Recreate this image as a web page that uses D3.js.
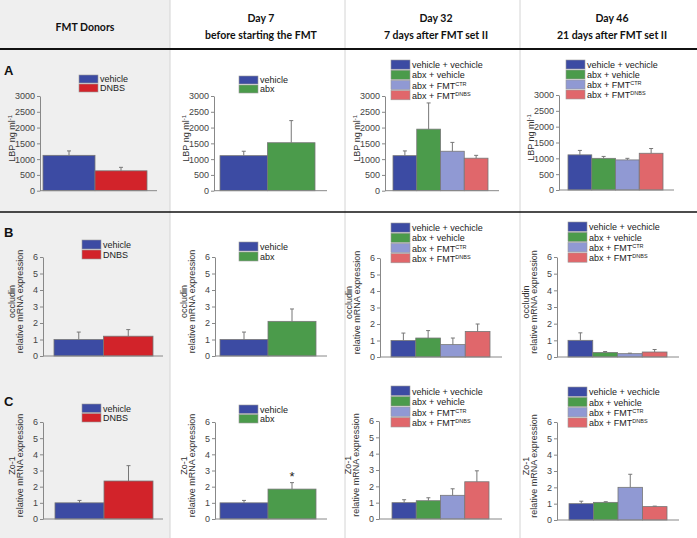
<!DOCTYPE html>
<html>
<head>
<meta charset="utf-8">
<script src="https://cdn.jsdelivr.net/npm/d3@7"></script>
<style>
body { margin: 0; background: #fff; }
svg { display: block; }
</style>
</head>
<body>
<svg id="canvas" width="697" height="538"></svg>
<script>
// groups and colours
let donorGroups = ['vehicle', 'DNBS']
let day7Groups = ['vehicle', 'abx']
let fmtGroups = ['vehicle + vechicle', 'abx + vehicle', 'abx + FMT', 'abx + FMT']
let fmtSup = ['', '', 'CTR', 'DNBS']
let donorColors = ['#3c4ba3', '#d2232a']
let day7Colors = ['#3c4ba3', '#4b9b4b']
let fmtColors = ['#3c4ba3', '#4b9b4b', '#9099d3', '#e0676b']

let columnTitles = [['FMT Donors'], ['Day 7', 'before starting the FMT'], ['Day 32', '7 days after FMT set II'], ['Day 46', '21 days after FMT set II']]
let rowLetters = ['A', 'B', 'C']

let lbpTicks = [0, 500, 1000, 1500, 2000, 2500, 3000]
let mrnaTicks = [0, 1, 2, 3, 4, 5, 6]
let lbpLabel = ['LBP ng ml']
let occLabel = ['occludin', 'relative mRNA expression']
let zoLabel = ['Zo-1', 'relative mRNA expression']

// means and top of the error bar
let lbpDonors = [1120, 630]
let lbpDonorsErr = [1260, 740]
let lbpDay7 = [1110, 1520]
let lbpDay7Err = [1250, 2220]
let lbpDay32 = [1110, 1950, 1250, 1030]
let lbpDay32Err = [1260, 2780, 1530, 1120]
let lbpDay46 = [1110, 1000, 950, 1160]
let lbpDay46Err = [1250, 1060, 1000, 1310]

let occDonors = [1.0, 1.2]
let occDonorsErr = [1.45, 1.6]
let occDay7 = [1.0, 2.1]
let occDay7Err = [1.45, 2.85]
let occDay32 = [1.0, 1.15, 0.75, 1.55]
let occDay32Err = [1.45, 1.6, 1.15, 2.0]
let occDay46 = [1.0, 0.27, 0.2, 0.3]
let occDay46Err = [1.45, 0.33, 0.23, 0.45]

let zoDonors = [1.0, 2.35]
let zoDonorsErr = [1.15, 3.3]
let zoDay7 = [1.0, 1.85]
let zoDay7Err = [1.15, 2.25]
let zoDay32 = [1.0, 1.12, 1.45, 2.28]
let zoDay32Err = [1.18, 1.3, 1.85, 2.95]
let zoDay46 = [1.0, 1.08, 2.0, 0.82]
let zoDay46Err = [1.15, 1.12, 2.8, 0.85]

let canvas = d3.select('#canvas')
let font = 'Liberation Sans, Arial, sans-serif'

// page frame
canvas.append('rect').attr('x', 0).attr('y', 0).attr('width', 170).attr('height', 538).attr('fill', '#efefef')
canvas.selectAll('.vline').data([170, 345, 520]).enter().append('line')
    .attr('x1', d => d).attr('x2', d => d).attr('y1', 0).attr('y2', 538)
    .attr('stroke', '#d4d4d4').attr('stroke-width', 1)
canvas.append('line').attr('x1', 0).attr('x2', 697).attr('y1', 49).attr('y2', 49)
    .attr('stroke', '#111').attr('stroke-width', 2)
canvas.append('line').attr('x1', 0).attr('x2', 697).attr('y1', 212).attr('y2', 212)
    .attr('stroke', '#111').attr('stroke-width', 1.6)

let colCenters = [85, 261, 436, 612]
columnTitles.forEach((lines, i) => {
    let t = canvas.append('text')
        .attr('x', colCenters[i])
        .attr('text-anchor', 'middle')
        .attr('font-family', 'Lato, Noto Sans, sans-serif')
        .attr('font-weight', 'bold')
        .attr('font-size', 10.5)
        .attr('fill', '#111')
    if (lines.length === 1) {
        t.attr('y', 31).text(lines[0])
    } else {
        t.append('tspan').attr('x', colCenters[i]).attr('y', 22).text(lines[0])
        t.append('tspan').attr('x', colCenters[i]).attr('y', 39).text(lines[1])
    }
})

let letterY = [75, 237, 406]
rowLetters.forEach((l, i) => {
    canvas.append('text').attr('x', 4).attr('y', letterY[i])
        .attr('font-family', font).attr('font-weight', 'bold').attr('font-size', 13)
        .attr('fill', '#111').text(l)
})

let panels = [
    {vals: lbpDonors, errs: lbpDonorsErr, groups: donorGroups, sup: ['', ''], colors: donorColors, ticks: lbpTicks, label: lbpLabel, inv: true,
     ax: 40, axEnd: 157, bars: [43, 147], top: 96, bot: 190.7, lx: 79, ly: 75, rh: 9},
    {vals: lbpDay7, errs: lbpDay7Err, groups: day7Groups, sup: ['', ''], colors: day7Colors, ticks: lbpTicks, label: lbpLabel, inv: true,
     ax: 214, axEnd: 327, bars: [220, 315], top: 96, bot: 190.7, lx: 239, ly: 76, rh: 9},
    {vals: lbpDay32, errs: lbpDay32Err, groups: fmtGroups, sup: fmtSup, colors: fmtColors, ticks: lbpTicks, label: lbpLabel, inv: true,
     ax: 385, axEnd: 499, bars: [393, 488], top: 96, bot: 190.7, lx: 391, ly: 60, rh: 10.2},
    {vals: lbpDay46, errs: lbpDay46Err, groups: fmtGroups, sup: fmtSup, colors: fmtColors, ticks: lbpTicks, label: lbpLabel, inv: true,
     ax: 559, axEnd: 674, bars: [568, 663], top: 95, bot: 190, lx: 566, ly: 60, rh: 10},

    {vals: occDonors, errs: occDonorsErr, groups: donorGroups, sup: ['', ''], colors: donorColors, ticks: mrnaTicks, label: occLabel,
     ax: 43, axEnd: 163, bars: [54, 153], top: 257, bot: 356, lx: 82, ly: 240, rh: 10},
    {vals: occDay7, errs: occDay7Err, groups: day7Groups, sup: ['', ''], colors: day7Colors, ticks: mrnaTicks, label: occLabel,
     ax: 215, axEnd: 327, bars: [220, 316], top: 257, bot: 356, lx: 239, ly: 242, rh: 10},
    {vals: occDay32, errs: occDay32Err, groups: fmtGroups, sup: fmtSup, colors: fmtColors, ticks: mrnaTicks, label: occLabel,
     ax: 380, axEnd: 502, bars: [391, 490], top: 258, bot: 357, lx: 391, ly: 223, rh: 10.2},
    {vals: occDay46, errs: occDay46Err, groups: fmtGroups, sup: fmtSup, colors: fmtColors, ticks: mrnaTicks, label: occLabel,
     ax: 557, axEnd: 679, bars: [568, 667], top: 257, bot: 357, lx: 568, ly: 222, rh: 10.3},

    {vals: zoDonors, errs: zoDonorsErr, groups: donorGroups, sup: ['', ''], colors: donorColors, ticks: mrnaTicks, label: zoLabel,
     ax: 43, axEnd: 163, bars: [55, 153], top: 422, bot: 519, lx: 82, ly: 404, rh: 9.5},
    {vals: zoDay7, errs: zoDay7Err, groups: day7Groups, sup: ['', ''], colors: day7Colors, ticks: mrnaTicks, label: zoLabel, star: 1,
     ax: 215, axEnd: 327, bars: [220, 316], top: 422, bot: 519, lx: 239, ly: 405, rh: 9.5},
    {vals: zoDay32, errs: zoDay32Err, groups: fmtGroups, sup: fmtSup, colors: fmtColors, ticks: mrnaTicks, label: zoLabel,
     ax: 379, axEnd: 502, bars: [392, 489], top: 421, bot: 519, lx: 391, ly: 386, rh: 10.5},
    {vals: zoDay46, errs: zoDay46Err, groups: fmtGroups, sup: fmtSup, colors: fmtColors, ticks: mrnaTicks, label: zoLabel,
     ax: 557, axEnd: 679, bars: [569, 667], top: 422, bot: 520, lx: 568, ly: 387, rh: 10.3}
]

let drawPanel = (p) => {
    let g = canvas.append('g')
    let y = d3.scaleLinear().domain([0, d3.max(p.ticks)]).range([p.bot, p.top])
    let x = d3.scaleBand().domain(p.groups.map((d, i) => i)).range(p.bars).padding(0)

    // bars
    g.selectAll('.bar').data(p.vals).enter().append('rect')
        .attr('x', (d, i) => x(i))
        .attr('y', d => y(d))
        .attr('width', x.bandwidth())
        .attr('height', d => p.bot - y(d))
        .attr('fill', (d, i) => p.colors[i])
        .attr('stroke', '#777').attr('stroke-width', 0.8)

    // error bars (upper only)
    g.selectAll('.err').data(p.errs).enter().append('line')
        .attr('x1', (d, i) => x(i) + x.bandwidth() / 2)
        .attr('x2', (d, i) => x(i) + x.bandwidth() / 2)
        .attr('y1', (d, i) => y(p.vals[i]))
        .attr('y2', d => y(d))
        .attr('stroke', '#777').attr('stroke-width', 1)
    g.selectAll('.cap').data(p.errs).enter().append('line')
        .attr('x1', (d, i) => x(i) + x.bandwidth() / 2 - 2)
        .attr('x2', (d, i) => x(i) + x.bandwidth() / 2 + 2)
        .attr('y1', d => y(d))
        .attr('y2', d => y(d))
        .attr('stroke', '#777').attr('stroke-width', 1)

    if (p.star !== undefined) {
        g.append('text')
            .attr('x', x(p.star) + x.bandwidth() / 2)
            .attr('y', y(p.errs[p.star]) - 2)
            .attr('text-anchor', 'middle')
            .attr('font-family', font).attr('font-size', 13).attr('fill', '#222')
            .text('*')
    }

    // axes
    let yAxis = g.append('g').attr('transform', 'translate(' + p.ax + ',0)')
        .call(d3.axisLeft(y).tickValues(p.ticks).tickFormat(d3.format('d')).tickSize(3).tickPadding(2).tickSizeOuter(0))
    yAxis.selectAll('path, line').attr('stroke', '#888')
    yAxis.selectAll('text').attr('font-family', font).attr('font-size', 9).attr('fill', '#444')
    g.append('line').attr('x1', p.ax).attr('x2', p.axEnd).attr('y1', p.bot).attr('y2', p.bot)
        .attr('stroke', '#888').attr('stroke-width', 1)

    // y label
    let cy = (p.top + p.bot) / 2 - 5
    let lab = g.append('text')
        .attr('transform', 'translate(' + (p.ax - (p.inv ? 25 : 28)) + ',' + cy + ') rotate(-90)')
        .attr('text-anchor', 'middle')
        .attr('font-family', font).attr('font-size', 9).attr('fill', '#333')
    if (p.inv) {
        lab.append('tspan').text(p.label[0])
        lab.append('tspan').attr('dy', -3).attr('font-size', 6).text('-1')
    } else {
        lab.append('tspan').attr('x', 0).attr('y', 0).text(p.label[0])
        lab.append('tspan').attr('x', 0).attr('y', 8).text(p.label[1])
    }

    // legend
    let leg = g.selectAll('.leg').data(p.groups).enter().append('g')
        .attr('transform', (d, i) => 'translate(' + p.lx + ',' + (p.ly + i * p.rh) + ')')
    leg.append('rect')
        .attr('width', 19).attr('height', p.rh - 1)
        .attr('fill', (d, i) => p.colors[i])
        .attr('stroke', '#999').attr('stroke-width', 0.6)
    let lt = leg.append('text')
        .attr('x', 21).attr('y', p.rh - 2)
        .attr('font-family', font).attr('font-size', 9).attr('fill', '#222')
    lt.append('tspan').text(d => d)
    lt.append('tspan').attr('dy', -3).attr('font-size', 5.5).text((d, i) => p.sup[i])
}

panels.forEach(drawPanel)
</script>
</body>
</html>
